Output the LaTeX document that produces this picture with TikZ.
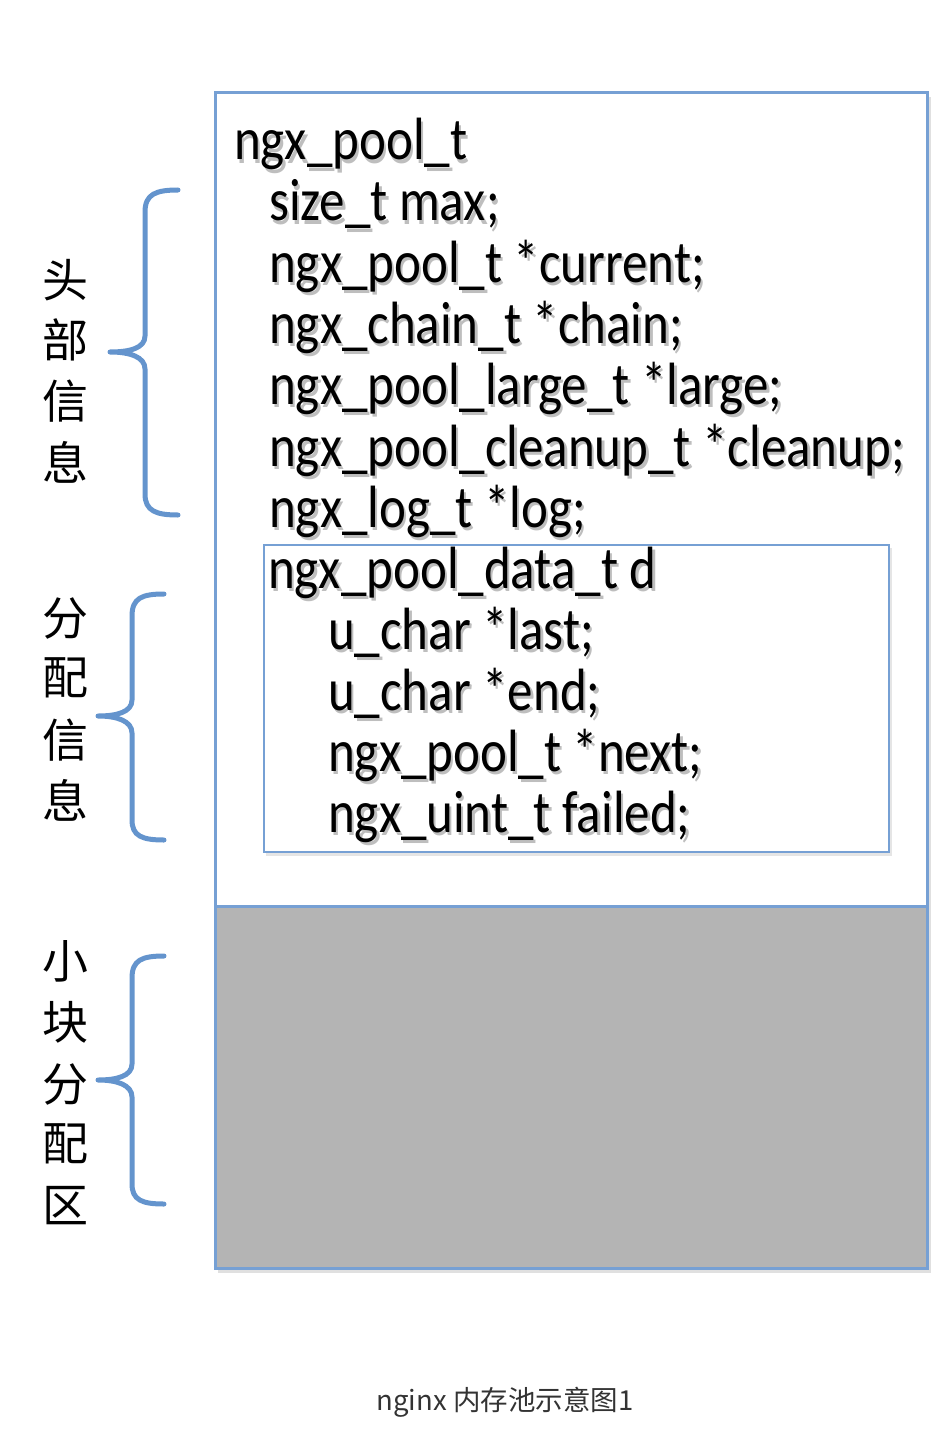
\documentclass[tikz,border=0pt]{standalone}
\usepackage{graphicx}
\usepackage{fontspec}
\setmainfont{Carlito}
\newfontfamily\cjk{Noto Sans CJK SC}
\definecolor{bracecol}{RGB}{100,148,205}
\definecolor{boxcol}{RGB}{118,160,212}
\definecolor{fillgray}{RGB}{180,180,180}
\definecolor{captioncol}{RGB}{51,51,51}
\definecolor{textshadow}{RGB}{190,190,190}
\tikzset{
  codetext/.style={anchor=base west, inner sep=0pt, font=\fontsize{51}{60}\selectfont},
  sidelabel/.style={font=\cjk\fontsize{46}{46}\selectfont, inner sep=0pt},
  bracepath/.style={draw=bracecol, line width=5pt, line cap=round, line join=round},
  boxline/.style={draw=boxcol, line width=3pt},
}
\newcommand{\shadowed}[1]{\scalebox{1}[1.17]{\makebox[0pt][l]{\hspace{2.5pt}\raisebox{-3pt}{\textcolor{textshadow}{#1}}}#1}}
\begin{document}
\begin{tikzpicture}[x=1pt,y=-1pt]
\useasboundingbox (0,0) rectangle (949,1431);
% outer box
\fill[black,opacity=0.12] (218,97) rectangle (931,1273);
\fill[white] (215,93) rectangle (927,906);
\fill[fillgray] (215,906) rectangle (927,1268);
\draw[boxline] (215,93) rectangle (927,1268);
\draw[boxline] (215,906) -- (927,906);
% inner box
\fill[black,opacity=0.10] (266,548) rectangle (892,856);
\draw[boxline, line width=2.5pt, fill=white] (264,545) rectangle (889,852);
% code text
\foreach \x/\y/\t [count=\i] in {
  234/160/{ngx\_pool\_t},
  269/221/{size\_t max;},
  269/282/{ngx\_pool\_t *current;},
  269/343/{ngx\_chain\_t *chain;},
  269/404/{ngx\_pool\_large\_t *large;},
  269/466/{ngx\_pool\_cleanup\_t *cleanup;},
  269/527/{ngx\_log\_t *log;},
  268/588/{ngx\_pool\_data\_t d},
  328/649/{u\_char *last;},
  328/710/{u\_char *end;},
  328/771/{ngx\_pool\_t *next;},
  328/832/{ngx\_uint\_t failed;}} {
  \node[codetext, text=black] (line\i) at (\x,\y) {\shadowed{\t}};
}
% side labels
\foreach \c/\y [count=\i] in {头/280,部/340,信/401,息/462} {
  \node[sidelabel] (h\i) at (65,\y) {\c};
}
\foreach \c/\y [count=\i] in {分/618,配/678,信/740,息/800} {
  \node[sidelabel] (a\i) at (65,\y) {\c};
}
\foreach \c/\y [count=\i] in {小/961,块/1022,分/1084,配/1144,区/1206} {
  \node[sidelabel] (b\i) at (65,\y) {\c};
}
% braces
\draw[bracepath] (178,190) .. controls (156,190) and (145,194) .. (145,212) -- (145,336)
  .. controls (145,348) and (130,352) .. (110,352)
  .. controls (130,352) and (145,357) .. (145,369) -- (145,494)
  .. controls (145,511) and (156,515) .. (178,515);
\draw[bracepath] (164,594) .. controls (142,594) and (132,598) .. (132,616) -- (132,700)
  .. controls (132,712) and (117,716) .. (98,716)
  .. controls (117,716) and (132,721) .. (132,733) -- (132,820)
  .. controls (132,836) and (142,840) .. (164,840);
\draw[bracepath] (164,956) .. controls (142,956) and (132,960) .. (132,978) -- (132,1064)
  .. controls (132,1076) and (117,1080) .. (98,1080)
  .. controls (117,1080) and (132,1085) .. (132,1097) -- (132,1184)
  .. controls (132,1200) and (142,1204) .. (164,1204);
% caption
\node[font=\cjk\fontsize{27.5}{27.5}\selectfont, text=captioncol, inner sep=0pt] (caption) at (505,1402) {nginx 内存池示意图1};
\end{tikzpicture}
\end{document}
